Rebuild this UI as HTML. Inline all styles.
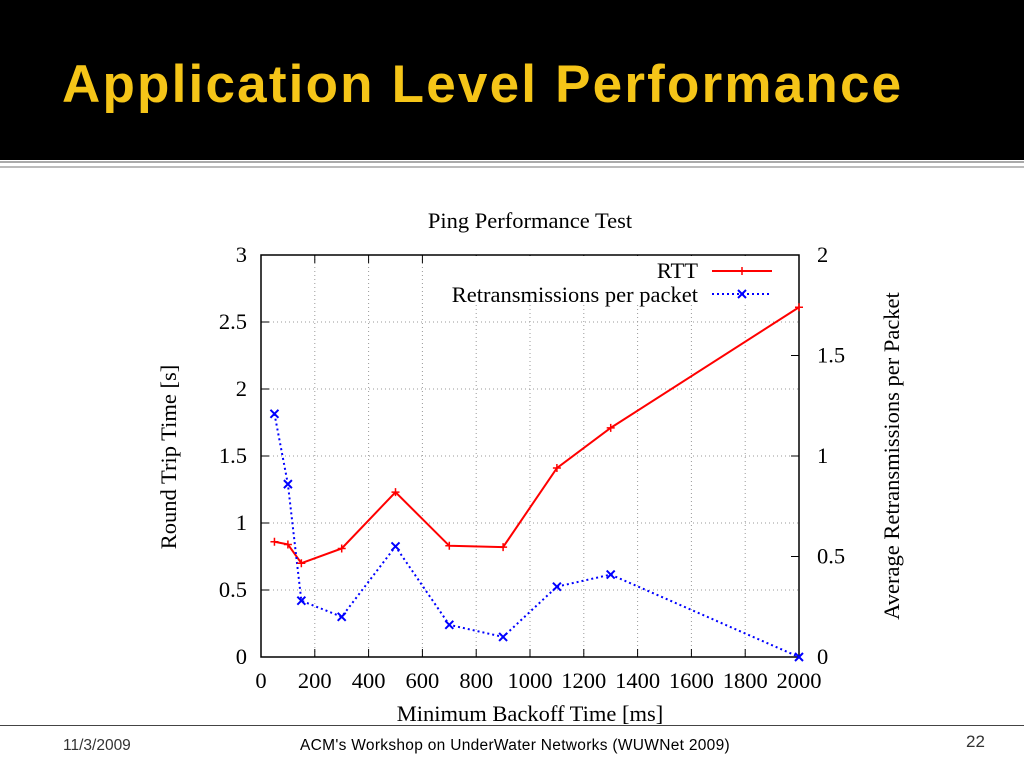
<!DOCTYPE html>
<html><head><meta charset="utf-8"><style>
body{margin:0;width:1024px;height:768px;overflow:hidden;background:#fff;font-family:"Liberation Sans",sans-serif;position:relative}
#hdr{position:absolute;left:0;top:0;width:1024px;height:160px;background:#000}
#title{position:absolute;left:62px;top:54px;font-size:53px;font-weight:bold;color:#f5c518;letter-spacing:2.2px}
.ln{position:absolute;left:0;width:1024px;background:#aaa}
.ft{position:absolute;font-size:15.5px;color:#333}
svg{position:absolute;left:0;top:0}
svg text{font-family:"Liberation Serif",serif;fill:#000}
</style></head><body>
<div id="hdr"><div id="title">Application Level Performance</div></div>
<div class="ln" style="top:161px;height:2px"></div>
<div class="ln" style="top:166px;height:2px;background:#bbb"></div>
<div class="ln" style="top:725px;height:1px;background:#444"></div>
<div class="ft" style="left:63px;top:737px">11/3/2009</div>
<div class="ft" style="left:300px;top:737px;color:#000;letter-spacing:0.3px">ACM's Workshop on UnderWater Networks (WUWNet 2009)</div>
<div class="ft" style="left:966px;top:732px;font-size:17px">22</div>
<svg id="chart" width="1024" height="768"></svg>
<script>
const xs=[50,100,150,300,500,700,900,1100,1300,2000];
const rtt=[0.86,0.84,0.70,0.81,1.23,0.83,0.82,1.41,1.71,2.61];
const retr=[1.21,0.86,0.28,0.20,0.55,0.16,0.10,0.35,0.41,0.0];
const xTicks=[0,200,400,600,800,1000,1200,1400,1600,1800,2000];
const yTicks=[0,0.5,1,1.5,2,2.5,3];
const y2Ticks=[0,0.5,1,1.5,2];
const L=261,R=799,T=255,B=657;
const FS=22.5;
const X=v=>L+(R-L)*v/2000, Y=v=>B-(B-T)*v/3, Y2=v=>B-(B-T)*v/2;
const svg=document.getElementById('chart');const NS='http://www.w3.org/2000/svg';
function el(t,a,txt){const e=document.createElementNS(NS,t);for(const k in a)e.setAttribute(k,a[k]);if(txt!==undefined)e.textContent=txt;svg.appendChild(e);return e;}
xTicks.forEach(v=>{if(v>0&&v<2000){const g=el('line',{x1:X(v),x2:X(v),y1:(v>=700?305:T),y2:B,stroke:'#999','stroke-dasharray':'1,3'});

}
const t=el('text',{x:X(v),y:B+31,'font-size':FS,'text-anchor':'middle'},v);


el('line',{x1:X(v),x2:X(v),y1:B,y2:B-8,stroke:'#000'});el('line',{x1:X(v),x2:X(v),y1:T,y2:T+8,stroke:'#000'});});
yTicks.forEach(v=>{if(v>0&&v<3){const g=el('line',{x1:L,x2:R,y1:Y(v),y2:Y(v),stroke:'#999','stroke-dasharray':'1,3'});

}
const t=el('text',{x:L-14,y:Y(v)+7,'font-size':FS,'text-anchor':'end'},v);


el('line',{x1:L,x2:L+8,y1:Y(v),y2:Y(v),stroke:'#000'});});
y2Ticks.forEach(v=>{const t=el('text',{x:R+18,y:Y2(v)+7,'font-size':FS},v);


el('line',{x1:R-8,x2:R,y1:Y2(v),y2:Y2(v),stroke:'#000'});});
el('rect',{x:440,y:T+1,width:R-441,height:48,fill:'#fff'});
el('rect',{x:L,y:T,width:R-L,height:B-T,fill:'none',stroke:'#000','stroke-width':1.5});
const p1=el('polyline',{points:xs.map((x,i)=>X(x)+','+Y(rtt[i])).join(' '),fill:'none',stroke:'#f00','stroke-width':2});


const p2=el('polyline',{points:xs.map((x,i)=>X(x)+','+Y2(retr[i])).join(' '),fill:'none',stroke:'#00f','stroke-width':2,'stroke-dasharray':'2,3'});


xs.forEach((x,i)=>{const cx=X(x),cy=Y(rtt[i]);
const m=el('path',{d:`M${cx-4},${cy}h8M${cx},${cy-4}v8`,stroke:'#f00','stroke-width':1.5});


const qx=X(x),qy=Y2(retr[i]);
const n=el('path',{d:`M${qx-4},${qy-4}l8,8M${qx-4},${qy+4}l8,-8`,stroke:'#00f','stroke-width':2});

});
let t=el('text',{x:698,y:278,'font-size':FS,'text-anchor':'end'},'RTT');


el('line',{x1:712,x2:772,y1:271,y2:271,stroke:'#f00','stroke-width':2});
el('path',{d:'M738,271h8M742,267v8',stroke:'#f00','stroke-width':1.5});
t=el('text',{x:698,y:302,'font-size':FS,'text-anchor':'end'},'Retransmissions per packet');


el('line',{x1:712,x2:772,y1:294,y2:294,stroke:'#00f','stroke-width':2,'stroke-dasharray':'2,3'});
el('path',{d:'M738,290l8,8M738,298l8,-8',stroke:'#00f','stroke-width':2});
t=el('text',{x:530,y:228,'font-size':FS,'text-anchor':'middle'},'Ping Performance Test');


t=el('text',{x:530,y:721,'font-size':FS,'text-anchor':'middle'},'Minimum Backoff Time [ms]');


t=el('text',{x:0,y:0,'font-size':FS,'text-anchor':'middle',transform:'translate(176,457) rotate(-90)'},'Round Trip Time [s]');


t=el('text',{x:0,y:0,'font-size':FS,'text-anchor':'middle',transform:'translate(899,456) rotate(-90)'},'Average Retransmissions per Packet');


</script>
</body></html>
